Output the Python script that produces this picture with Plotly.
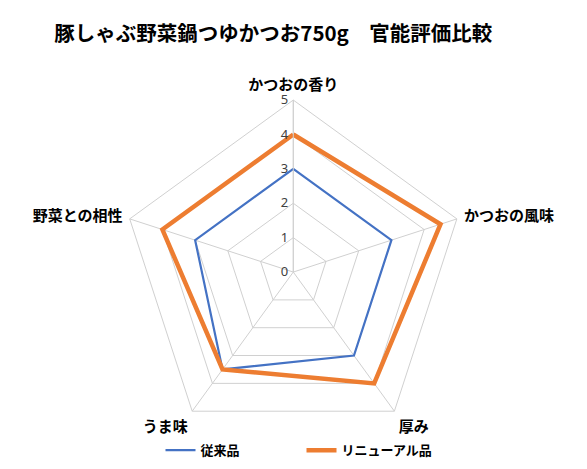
import plotly.graph_objects as go

# 評価項目（時計回り、上から）
categories = ["かつおの香り", "かつおの風味", "厚み", "うま味", "野菜との相性"]
conventional = [3, 3, 3, 3.5, 3]
renewal = [4, 4.5, 4, 3.5, 4]
radial_ticks = [0, 1, 2, 3, 4, 5]

font_jp = "Noto Sans CJK JP"


def closed(vals):
    return vals + vals[:1]


fig = go.Figure()
fig.add_trace(go.Scatterpolar(
    r=closed(conventional), theta=closed(categories),
    mode="lines", name="従来品",
    line=dict(color="#4472C4", width=2.2),
))
fig.add_trace(go.Scatterpolar(
    r=closed(renewal), theta=closed(categories),
    mode="lines", name="リニューアル品",
    line=dict(color="#ED7D31", width=4.5),
))

fig.update_layout(
    width=587, height=469,
    margin=dict(l=0, r=0, t=0, b=0),
    paper_bgcolor="white",
    font=dict(family=font_jp, color="#000000"),
    title=dict(text="豚しゃぶ野菜鍋つゆかつお750g　官能評価比較",
               x=0.452, xanchor="center", y=0.945, yanchor="middle",
               font=dict(size=20.5, color="#000000", weight="bold")),
    polar=dict(
        domain=dict(x=[0.193, 0.779], y=[0.070, 0.804]),
        gridshape="linear",
        bgcolor="white",
        angularaxis=dict(
            rotation=90, direction="clockwise",
            showline=True, linecolor="#D0D0D0", linewidth=1,
            gridcolor="#D0D0D0",
            ticks="outside", ticklen=4, tickcolor="rgba(0,0,0,0)",
            tickfont=dict(size=15, color="#000000", family=font_jp, weight="bold"),
        ),
        radialaxis=dict(
            range=[0, 5], tickvals=radial_ticks,
            angle=90, tickangle=90, side="counterclockwise",
            showline=True, linecolor="#D0D0D0",
            gridcolor="#D0D0D0", ticks="",
            tickfont=dict(size=13, color="#404040", family="Noto Sans"),
        ),
    ),
    legend=dict(orientation="h", x=0.5, xanchor="center", y=0.057, yanchor="middle",
                bgcolor="rgba(0,0,0,0)",
                font=dict(size=13, family=font_jp, weight="bold"),
                itemwidth=30, entrywidth=96, entrywidthmode="pixels"),
)

fig.write_html("out.html")
